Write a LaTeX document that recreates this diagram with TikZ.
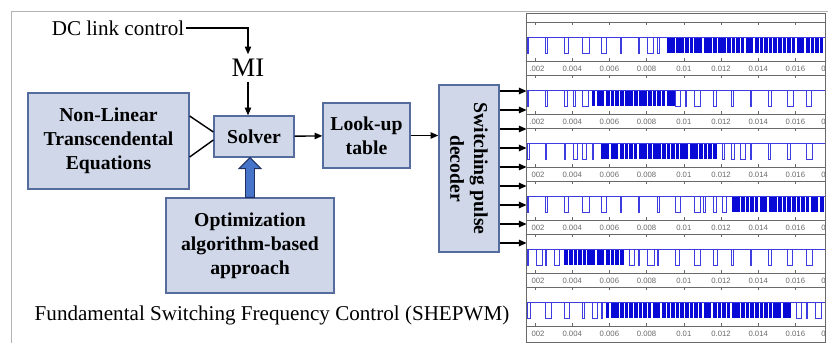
\documentclass[tikz,border=0pt]{standalone}
\usepackage{fontspec}
\setmainfont{Liberation Serif}
\newfontfamily\axisfont{Liberation Sans}
\usetikzlibrary{arrows.meta,calc}
\definecolor{boxfill}{RGB}{207,215,232}
\definecolor{boxline}{RGB}{84,108,158}
\definecolor{fatblue}{RGB}{70,116,200}
\definecolor{fatline}{RGB}{32,48,96}
\definecolor{wavecol}{RGB}{60,60,225}
\definecolor{wavefill}{RGB}{10,10,215}
\definecolor{axiscol}{RGB}{105,105,105}

% one PWM trace: #1 = y of high level, #2..#3 = index range of dense switching
\newcommand\pwmwave[3]{%
  \foreach \i in {0,...,63}{
    \pgfmathsetmacro\xa{527+4.65*\i}
    \pgfmathtruncatemacro\dst{max(#2-\i,\i-#3,0)}
    \ifnum\dst=0
      \pgfmathsetmacro\nw{2.9+1.3*abs(sin(97*\i+31*#2))}
      \fill[wavefill] (\xa,#1) rectangle ++(\nw,16);
    \else
      \pgfmathtruncatemacro\stp{\dst<7 ? 2 : 4}
      \pgfmathtruncatemacro\rmd{mod(\i,\stp)}
      \ifnum\rmd=0
        \pgfmathsetmacro\nw{1.2+5*abs(sin(53*\i+17*#3))^3}
        \draw[wave] (\xa,#1) -- ++(0,16) -- ++(\nw,0) -- ++(0,-16);
      \fi
    \fi}
  \draw[wave] (527,#1) -- (825,#1);}

\begin{document}
\begin{tikzpicture}[x=0.025cm,y=-0.025cm,
  blk/.style={draw=boxline,fill=boxfill,line width=0.9pt,align=center,inner sep=0pt,
    font=\fontsize{14}{17}\selectfont\bfseries},
  link/.style={line width=1pt,-{Triangle[length=5.5pt,width=4.5pt]}},
  wave/.style={draw=wavecol,line width=0.6pt},
  axis/.style={draw=axiscol,line width=0.4pt},
  ticklab/.style={font=\axisfont\fontsize{5.5}{6}\selectfont, text=axiscol, inner sep=0pt}]
  \useasboundingbox (0,0) rectangle (828,343);
  \draw[gray!60,line width=0.5pt] (828,11) -- (11,11) -- (11,343);

  % blocks
  \node[blk, minimum width=4.025cm, minimum height=2.4cm] (nle) at (108.5,141) {Non-Linear\\Transcendental\\Equations};
  \node[blk, minimum width=2cm, minimum height=1.025cm] (solver) at (254,136.5) {Solver};
  \node[blk, minimum width=2.175cm, minimum height=1.625cm] (lut) at (366.5,135.5) {Look-up\\table};
  % rotated: north is the right side, south the left side
  \node[blk, rotate=-90, minimum width=4.175cm, minimum height=1.5cm] (spd) at (469,168.5) {Switching pulse\\decoder};
  \node[blk, minimum width=4.2cm, minimum height=2.375cm] (opt) at (250,245.5) {Optimization\\algorithm-based\\approach};

  \node[font=\fontsize{15}{18}\selectfont, inner sep=1pt] (dc) at (118,28) {DC link control};
  \node[font=\fontsize{19}{22}\selectfont] (mi) at (248,68) {MI};
  \node[font=\fontsize{15}{18}\selectfont] (cap) at (272,315) {Fundamental Switching Frequency Control (SHEPWM)};

  % connectors
  \draw[link] (dc.east) -| (mi.north);
  \draw[link] (mi.south) -- (mi.south |- solver.north);
  \draw[line width=1pt] ($(nle.east)+(0,-25)$) -- ($(solver.west)+(0,-4.5)$);
  \draw[line width=1pt] ($(nle.east)+(0,16)$) -- ($(solver.west)+(0,3.5)$);
  \draw[link] (solver) -- (lut);
  \draw[link] (lut.east) -- (lut.east -| spd.south);
  \coordinate (fatip) at (opt.north |- solver.south);
  \draw[fill=fatblue, draw=fatline, line width=0.7pt]
    ($(opt.north)+(-4.5,0)$) -- ($(fatip)+(-4.5,11)$) -- ($(fatip)+(-11,11)$) -- (fatip)
    -- ($(fatip)+(11,11)$) -- ($(fatip)+(4.5,11)$) -- ($(opt.north)+(4.5,0)$) -- cycle;

  % waveform panel
  \node[minimum width=7.45cm, minimum height=8.2cm, inner sep=0pt] (wf) at (676,178) {};
  \foreach \n in {0,...,8}
    \draw[link, line width=1.1pt] (spd.north |- 0,{91+19*\n}) -- (wf.west |- 0,{91+19*\n});
  \begin{scope}
    \clip (wf.south west) rectangle (wf.north east);
    \foreach \k/\da/\db in {0/30/63,1/14/31,2/16/40,3/44/63,4/8/20,5/17/56}{
      \pgfmathsetmacro\yl{69+53*\k}
      \pgfmathsetmacro\yh{\yl-32}
      \pwmwave{\yh}{\da}{\db}
      \draw[axis] (527,\yl-47) -- (825,\yl-47);
      \draw[axis] (527,\yl-8) -- (825,\yl-8);
      \foreach \j in {0,...,7}{
        \draw[axis] ({535+37.2*\j},\yl-47) -- ++(0,3);
        \draw[axis] ({535+37.2*\j},\yl-8) -- ++(0,-3);
      }
      \foreach \lab [count=\j from 1] in {0.004,0.006,0.008,0.01,0.012,0.014,0.016}
        \node[ticklab] at ({535+37.2*\j},\yl) {\lab};
      \ifnum\k<2
        \node[ticklab, anchor=east] at (544.7,\yl) {.002};
      \else
        \node[ticklab, anchor=east] at (544.7,\yl) {002};
      \fi
      \node[ticklab, anchor=west] at (821,\yl) {0};
    }
  \end{scope}
  \draw[draw=axiscol, line width=0.8pt] (wf.south west) rectangle (wf.north east);
\end{tikzpicture}
\end{document}
